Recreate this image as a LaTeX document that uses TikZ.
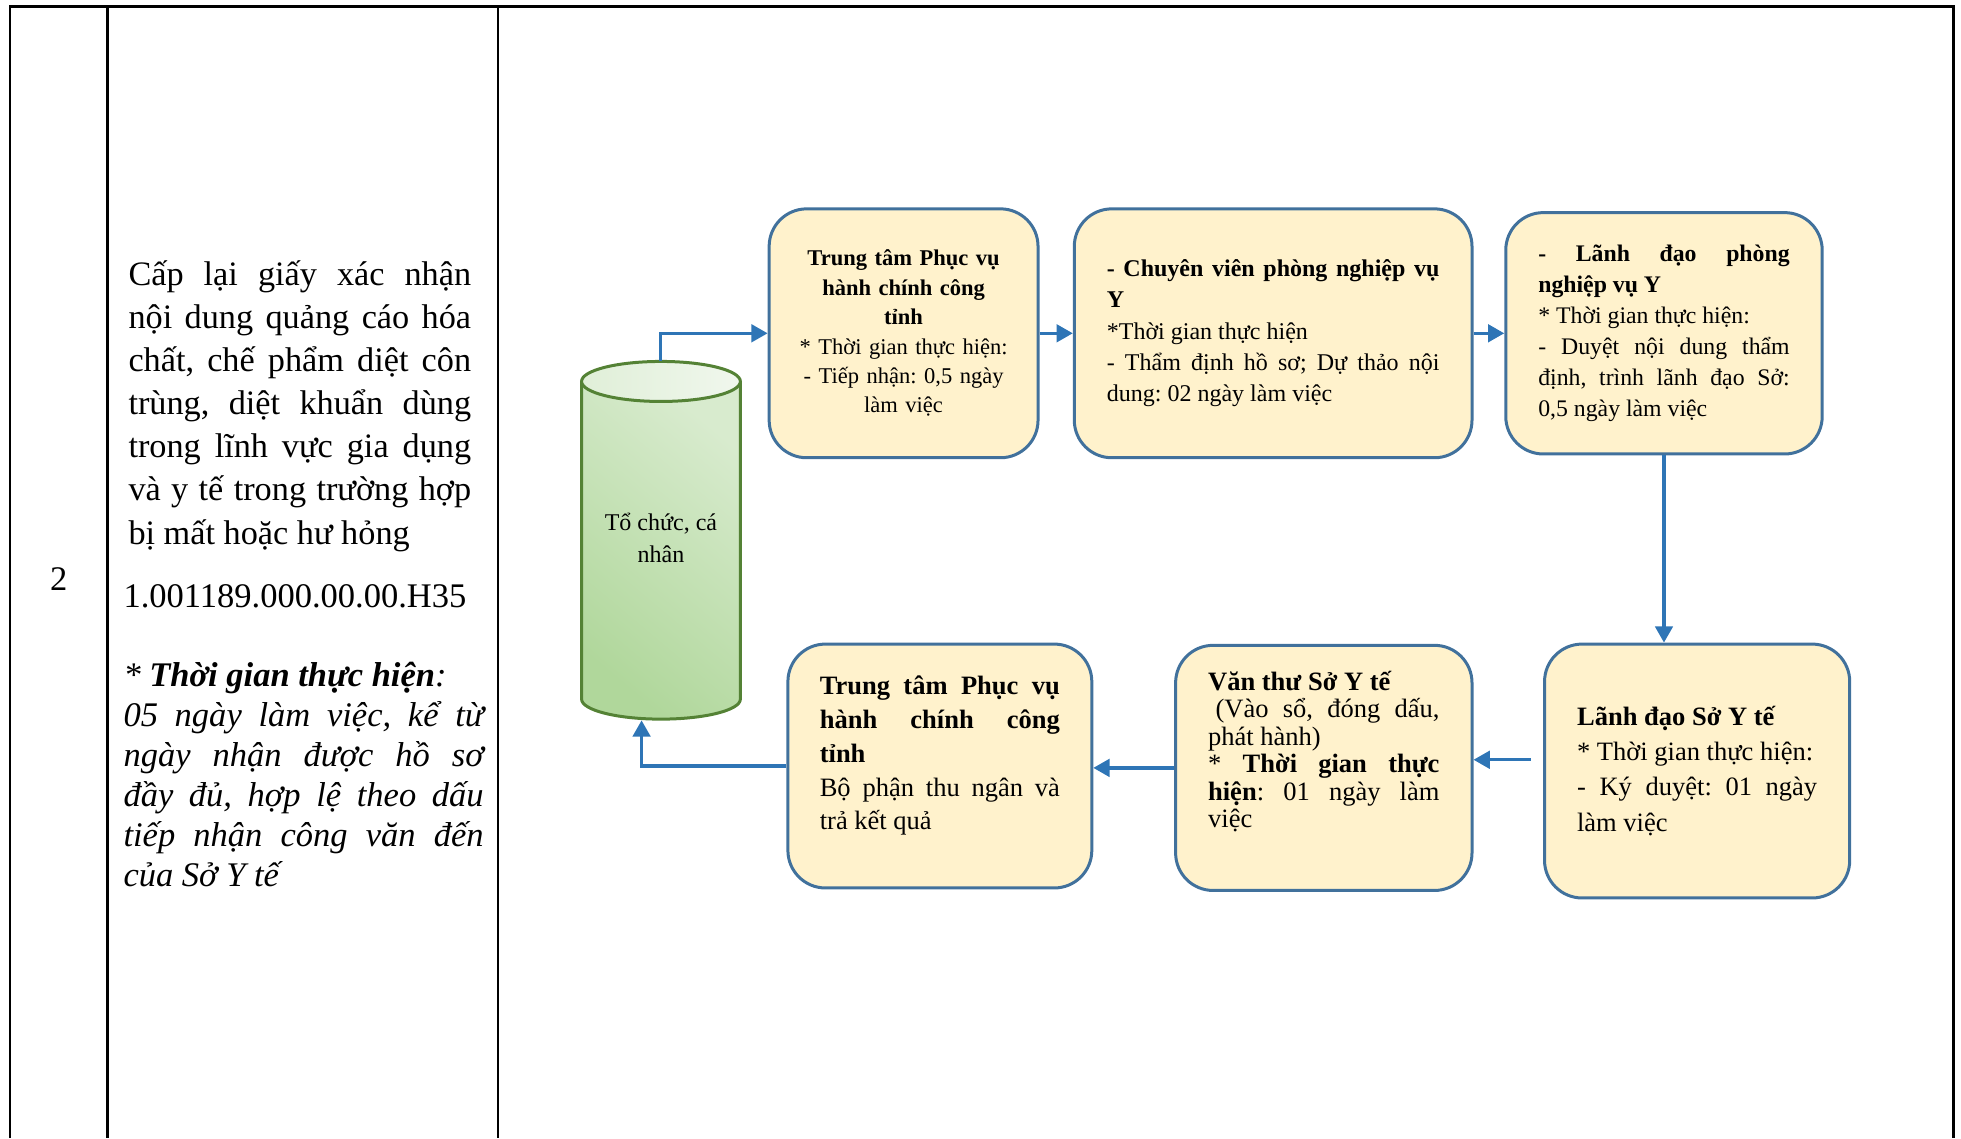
\documentclass[tikz,border=0pt]{standalone}
\usepackage{fontspec}
\setmainfont{Liberation Serif}
\usetikzlibrary{arrows.meta}

\definecolor{boxfill}{RGB}{255,242,204}
\definecolor{boxline}{RGB}{65,113,156}
\definecolor{flowblue}{RGB}{46,117,182}
\definecolor{cylline}{RGB}{84,130,53}
\definecolor{cyldark}{RGB}{176,215,155}
\definecolor{cyllight}{RGB}{216,235,206}
\definecolor{cyltopL}{RGB}{224,239,216}
\definecolor{cyltopR}{RGB}{240,247,237}

\frenchspacing
\hyphenpenalty=10000
\exhyphenpenalty=10000
\tolerance=10000

\tikzset{every picture/.style={line width=0.75pt}}
\tikzset{
  tablerule/.style={line width=1pt},
  procbox/.style={draw=boxline, fill=boxfill, line width=1.2pt, rounded corners=15pt, inner sep=0pt, align=justify},
  flow/.style={flowblue, line width=1.3pt, -{Triangle[length=6.5pt,width=7pt]}},
}

\begin{document}
\begin{tikzpicture}[x=0.5pt,y=0.5pt,yscale=-1]
\useasboundingbox (0,0) rectangle (1568,910);

%Shape: Table rules
\draw [tablerule] (8,910) -- (8,5) -- (1562,5) -- (1562,910) ;
\draw [tablerule] (86,5) -- (86,910) ;
\draw [tablerule] (398,5) -- (398,910) ;

% Text Node
\node (stt) [font=\fontsize{13.8}{17.25}\selectfont] at (47,463) {2};
% Text Node
\node (tenthutuc) [anchor=base west, inner sep=0pt, text width=137pt, align=justify, font=\fontsize{13.7}{17.25}\selectfont] at (102,228) {%
Cấp lại giấy xác nhận\linebreak
nội dung quảng cáo hóa\linebreak
chất, chế phẩm diệt côn\linebreak
trùng, diệt khuẩn dùng\linebreak
trong lĩnh vực gia dụng\linebreak
và y tế trong trường hợp\linebreak
bị mất hoặc hư hỏng};
% Text Node
\node (mathutuc) [anchor=base west, inner sep=0pt, font=\fontsize{13.8}{17.25}\selectfont] at (98,486) {1.001189.000.00.00.H35};
% Text Node
\node (thoigian) [anchor=base west, inner sep=0pt, text width=144pt, align=justify, font=\fontsize{13.8}{16}\selectfont\itshape] at (98,549) {%
* \textbf{Thời gian thực hiện}:\\
05 ngày làm việc, kể từ\linebreak
ngày nhận được hồ sơ\linebreak
đầy đủ, hợp lệ theo dấu\linebreak
tiếp nhận công văn đến\linebreak
của Sở Y tế};

%Shape: Can
\shade [bottom color=cyldark, top color=cyllight, shading angle=-40] (465,305) -- (465,559) arc (180:0:63.5 and 16) -- (592,305) -- cycle ;
\draw [cylline, line width=1.2pt] (465,305) -- (465,559) arc (180:0:63.5 and 16) -- (592,305) ;
\shade [left color=cyltopL, right color=cyltopR] (528.5,305) ellipse (63.5 and 16) ;
\draw [cylline, line width=1.2pt] (528.5,305) ellipse (63.5 and 16) ;
\coordinate (orgtop) at (528,289) ;
\coordinate (orgbot) at (513,576) ;
% Text Node
\node (org) [align=center, font=\fontsize{9.6}{13}\selectfont] at (528.5,430) {Tổ chức, cá\\nhân};

%Shape: Rounded Rectangle
\node (ttpv) [procbox, minimum width=107.5pt, minimum height=99.5pt, text width=84pt, align=center, font=\fontsize{9}{11.75}\selectfont] at (722.5,266.5) {%
\textbf{Trung tâm Phục vụ}\\
\textbf{hành chính công}\\
\textbf{tỉnh}\\
{*} Thời gian thực hiện:\\
- Tiếp nhận: 0,5 ngày\\
làm việc};
%Shape: Rounded Rectangle
\node (cvnv) [procbox, minimum width=159pt, minimum height=99.5pt, text width=133pt, font=\fontsize{9.6}{12.5}\selectfont] at (1018,266.5) {%
\textbf{- Chuyên viên phòng nghiệp vụ}\linebreak
\textbf{Y}\\
{*}Thời gian thực hiện\\
- Thẩm định hồ sơ; Dự thảo nội\linebreak
dung: 02 ngày làm việc};
%Shape: Rounded Rectangle
\node (ldp) [procbox, minimum width=126.5pt, minimum height=96.5pt, text width=100.5pt, font=\fontsize{9.5}{12.4}\selectfont] at (1330.5,266.5) {%
\textbf{- Lãnh đạo phòng}\linebreak
\textbf{nghiệp vụ Y}\\
{*} Thời gian thực hiện:\\
- Duyệt nội dung thẩm\linebreak
định, trình lãnh đạo Sở:\linebreak
0,5 ngày làm việc};
%Shape: Rounded Rectangle
\node (ldso) [procbox, minimum width=122pt, minimum height=101.5pt, text width=96pt, font=\fontsize{10.6}{14}\selectfont] at (1357,616.5) {%
\textbf{Lãnh đạo Sở Y tế}\\
{*} Thời gian thực hiện:\\
- Ký duyệt: 01 ngày\linebreak
làm việc};
%Shape: Rounded Rectangle
\node (vanthu) [procbox, minimum width=118.5pt, minimum height=98pt, text width=92.5pt, font=\fontsize{10.6}{11}\selectfont] at (1058.5,614) {%
\textbf{Văn thư Sở Y tế}\\
\hspace*{3pt}(Vào sổ, đóng dấu,\linebreak
phát hành)\\
{*} \textbf{Thời gian thực}\linebreak
\textbf{hiện}: 01 ngày làm\linebreak
việc\\[4pt]
\mbox{}};
%Shape: Rounded Rectangle
\node (trakq) [procbox, minimum width=121.5pt, minimum height=97.5pt, text width=96pt, font=\fontsize{10.6}{13.5}\selectfont] at (751.5,612.5) {%
\textbf{Trung tâm Phục vụ}\linebreak
\textbf{hành chính công}\linebreak
\textbf{tỉnh}\\
Bộ phận thu ngân và\linebreak
trả kết quả\\[-3pt]
\mbox{}};

%Straight Lines
\draw [flow] (orgtop) |- (ttpv.west) ;
\draw [flow] (ttpv.east) -- (cvnv.west) ;
\draw [flow] (cvnv.east) -- (ldp.west) ;
\draw [flow] (ldp.south) -- (ldp.south |- ldso.north) ;
\coordinate (a5) at ([shift={(-10,-9)}]ldso.west) ;
\draw [flow] (a5) -- (vanthu.east |- a5) ;
\draw [flow] (vanthu.west) -- (trakq.east |- vanthu.west) ;
\draw [flow] (trakq.west) -| (orgbot) ;

\end{tikzpicture}
\end{document}
